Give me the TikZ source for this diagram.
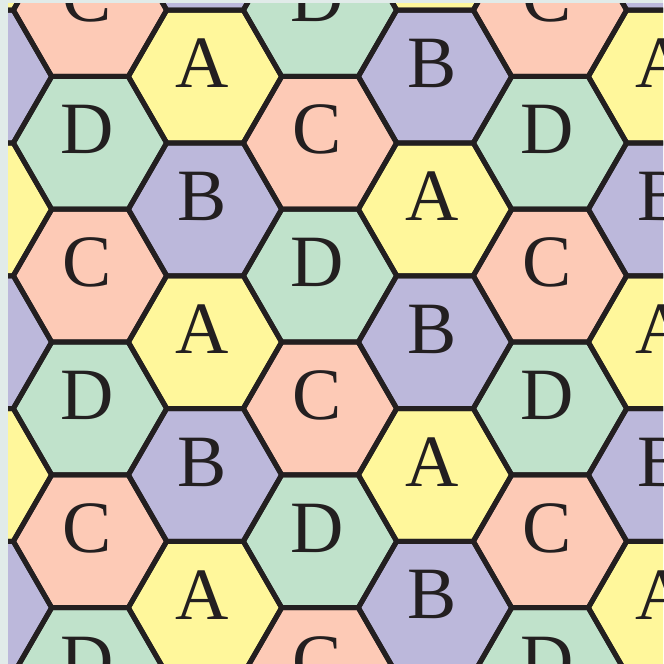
\documentclass[tikz,border=0pt]{standalone}
\usepackage{fontspec}
\setmainfont{Liberation Serif}

\definecolor{cellA}{HTML}{FFF79B}
\definecolor{cellB}{HTML}{BCB8DB}
\definecolor{cellC}{HTML}{FDCAB6}
\definecolor{cellD}{HTML}{C0E2CB}
\definecolor{edgecol}{HTML}{231F20}
\definecolor{stripcol}{HTML}{E1EBE9}

% column index / top centre y / letters from top to bottom
\def\hexcolumns{0/-56.2/{A,B,A,B,A,B}, 1/10/{C,D,C,D,C,D}, 2/-56.2/{B,A,B,A,B,A},
  3/10/{D,C,D,C,D,C}, 4/-56.2/{A,B,A,B,A,B}, 5/10/{C,D,C,D,C,D}, 6/-56.2/{B,A,B,A,B,A}}
\def\hexr{76.7}

\begin{document}
\begin{tikzpicture}[x=0.03cm, y=-0.03cm,
    letter/.style={text=edgecol, font=\fontsize{63}{63}\selectfont, inner sep=0pt},
    hexline/.style={draw=edgecol, line width=0.15cm, line join=miter}]
	% Background strip
	\fill[stripcol] (0,0) rectangle (663,664);
	\useasboundingbox (0,0) rectangle (663,664);
	
	\begin{scope}
		\clip (8,3) rectangle (663,664);
		
		% Cells and letters
		\foreach \i/\ytop/\cells in \hexcolumns {
			\foreach \lab [count=\j] in \cells {
				\pgfmathsetmacro{\cx}{-25+115*\i}
				\pgfmathsetmacro{\cy}{\ytop+132.8*(\j-1)}
				\fill[cell\lab] (\cx,\cy) +(0:\hexr) -- +(60:\hexr) -- +(120:\hexr)
					-- +(180:\hexr) -- +(240:\hexr) -- +(300:\hexr) -- cycle;
				\node[letter] (cell-\i-\j) at (\cx-3,\cy-13) {\lab};
			}
		}
		
		% Outlines
		\foreach \i/\ytop/\cells in \hexcolumns {
			\foreach \lab [count=\j] in \cells {
				\pgfmathsetmacro{\cx}{-25+115*\i}
				\pgfmathsetmacro{\cy}{\ytop+132.8*(\j-1)}
				\draw[hexline] (\cx,\cy) +(0:\hexr) -- +(60:\hexr) -- +(120:\hexr)
					-- +(180:\hexr) -- +(240:\hexr) -- +(300:\hexr) -- cycle;
			}
		}
	\end{scope}
\end{tikzpicture}
\end{document}
